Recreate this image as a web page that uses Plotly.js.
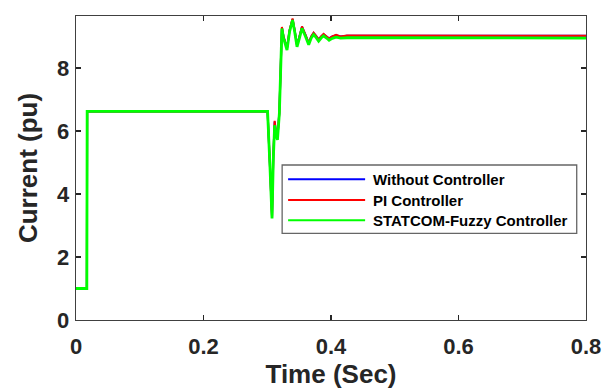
<!DOCTYPE html>
<html>
<head>
<meta charset="utf-8">
<script src="https://cdn.plot.ly/plotly-3.0.1.min.js"></script>
<style>html,body{margin:0;padding:0;background:#fff;}#chart{width:613px;height:392px;}</style>
</head>
<body>
<div id="chart"></div>
<script>
// Time (Sec)
const time = [0, 0.017, 0.0175, 0.3005, 0.304, 0.3075, 0.3095, 0.3116, 0.3135, 0.316, 0.319, 0.321, 0.323, 0.3255, 0.331, 0.335, 0.3397, 0.343, 0.3467, 0.3505, 0.3545, 0.36, 0.365, 0.369, 0.3727, 0.3765, 0.3806, 0.3845, 0.3884, 0.393, 0.397, 0.402, 0.408, 0.415, 0.425, 0.8];
// Current (pu)
const withoutController = [1.0, 1.0, 6.62, 6.62, 5.0, 3.3, 5.2, 6.3, 6.0, 5.78, 6.6, 8.0, 9.28, 9.0, 8.63, 9.2, 9.55, 9.2, 8.73, 9.0, 9.31, 9.05, 8.8, 9.0, 9.11, 9.02, 8.91, 9.0, 9.07, 9.0, 8.94, 9.0, 9.04, 9.0, 9.02, 9.02];
const piController = [1.0, 1.0, 6.62, 6.62, 5.0, 3.25, 5.2, 6.32, 6.0, 5.76, 6.6, 8.0, 9.3, 9.0, 8.62, 9.2, 9.57, 9.2, 8.72, 9.0, 9.32, 9.05, 8.79, 9.0, 9.12, 9.02, 8.9, 9.0, 9.08, 9.0, 8.93, 9.0, 9.05, 9.0, 9.03, 9.02];
const fuzzyController = [1.0, 1.0, 6.62, 6.62, 5.0, 3.22, 5.1, 6.18, 5.9, 5.72, 6.55, 7.9, 9.25, 8.95, 8.57, 9.15, 9.52, 9.15, 8.67, 8.95, 9.26, 9.0, 8.74, 8.95, 9.06, 8.97, 8.85, 8.95, 9.02, 8.95, 8.88, 8.94, 8.98, 8.95, 8.96, 8.95];

const names = ["Without Controller", "PI Controller", "STATCOM-Fuzzy Controller"];
const colors = ["#0000ff", "#ff0000", "#00ff00"];
const series = [withoutController, piController, fuzzyController];
const widths = [2, 2, 2.8];

const traces = series.map((s, i) => ({
  x: time, y: s, type: "scatter", mode: "lines", name: names[i],
  line: {color: colors[i], width: widths[i]}, showlegend: false
}));

// manual legend (paper coordinates)
const legRows = [0.4628, 0.3947, 0.328];
const shapes = [{type: "rect", xref: "paper", yref: "paper", x0: 0.4042, x1: 0.9818, y0: 0.2852, y1: 0.5099,
  line: {color: "#666666", width: 1.3}, fillcolor: "#ffffff", layer: "above"}];
const annotations = [];
legRows.forEach((y, i) => {
  shapes.push({type: "line", xref: "paper", yref: "paper", x0: 0.4159, x1: 0.5669, y0: y, y1: y,
    line: {color: colors[i], width: 2}, layer: "above"});
  annotations.push({xref: "paper", yref: "paper", x: 0.578, y: y, xanchor: "left", yanchor: "middle",
    text: "<b>" + names[i] + "</b>", showarrow: false, font: {family: "Liberation Sans, Arial", size: 15, color: "#000"}});
});

const axisCommon = {
  showline: true, linecolor: "#404040", linewidth: 1.3, mirror: "ticks",
  ticks: "inside", ticklen: 5, tickwidth: 1.3, tickcolor: "#262626",
  showgrid: false, zeroline: false,
  tickfont: {family: "Liberation Sans, Arial", size: 22, color: "#262626", weight: "bold"}
};

const layout = {
  width: 613, height: 392,
  margin: {l: 76, r: 27, t: 16, b: 72},
  paper_bgcolor: "#fff", plot_bgcolor: "#fff",
  xaxis: Object.assign({}, axisCommon, {
    range: [0, 0.8], tickvals: [0, 0.2, 0.4, 0.6, 0.8], ticktext: ["0", "0.2", "0.4", "0.6", "0.8"],
    ticklabelstandoff: 6,
    title: {text: "<b>Time (Sec)</b>", font: {family: "Liberation Sans, Arial", size: 26, color: "#262626"}, standoff: 6}
  }),
  yaxis: Object.assign({}, axisCommon, {
    range: [0, 9.65], tickvals: [0, 2, 4, 6, 8], ticktext: ["0", "2", "4", "6", "8"],
    ticklabelstandoff: 1,
    title: {text: "<b>Current (pu)</b>", font: {family: "Liberation Sans, Arial", size: 26, color: "#262626"}, standoff: 12}
  }),
  shapes: shapes,
  annotations: annotations
};

Plotly.newPlot("chart", traces, layout, {displayModeBar: false, staticPlot: true});
</script>
</body>
</html>
